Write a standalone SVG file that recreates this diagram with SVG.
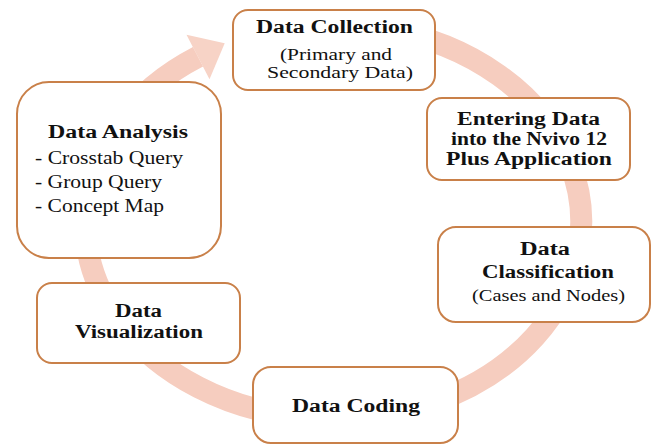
<svg xmlns="http://www.w3.org/2000/svg" width="660" height="446" viewBox="0 0 660 446">
<style>
.box{fill:#ffffff;stroke:#c98049;stroke-width:2}
.t{font-family:"Liberation Serif","Times New Roman",serif;font-weight:bold;font-size:18px;fill:#111;text-anchor:middle}
.r{font-family:"Liberation Serif","Times New Roman",serif;font-size:16px;fill:#111;text-anchor:middle}
.l{font-family:"Liberation Serif","Times New Roman",serif;font-size:18px;fill:#111;text-anchor:start}
</style>
<rect width="660" height="446" fill="#ffffff"/>
<g id="connectors">
<path d="M 268.8 31.7 A 248 197 0 1 1 198.0 56.8" fill="none" stroke="#f6cdbf" stroke-width="22"/>
<polygon points="186.5,34.8 224.7,43.2 209.5,79.2" fill="#f7d3c6"/>
</g>
<g id="data-collection">
<rect class="box" x="233" y="10" width="202" height="80" rx="15"/>
<text class="t" x="334.5" y="33" textLength="157" lengthAdjust="spacingAndGlyphs">Data Collection</text>
<text class="r" x="336" y="60" textLength="112" lengthAdjust="spacingAndGlyphs">(Primary and</text>
<text class="r" x="340" y="78" textLength="146" lengthAdjust="spacingAndGlyphs">Secondary Data)</text>
</g>
<g id="entering-data">
<rect class="box" x="427" y="98" width="203" height="82" rx="15"/>
<text class="t" x="528.5" y="125" textLength="143" lengthAdjust="spacingAndGlyphs">Entering Data</text>
<text class="t" x="529" y="145" textLength="156" lengthAdjust="spacingAndGlyphs">into the Nvivo 12</text>
<text class="t" x="529" y="165" textLength="166" lengthAdjust="spacingAndGlyphs">Plus Application</text>
</g>
<g id="data-classification">
<rect class="box" x="438" y="227" width="212" height="95" rx="18"/>
<text class="t" x="545" y="255" textLength="50" lengthAdjust="spacingAndGlyphs">Data</text>
<text class="t" x="548" y="278" textLength="132" lengthAdjust="spacingAndGlyphs">Classification</text>
<text class="r" x="548.5" y="301" textLength="153" lengthAdjust="spacingAndGlyphs">(Cases and Nodes)</text>
</g>
<g id="data-coding">
<rect class="box" x="253" y="367" width="205" height="76" rx="18"/>
<text class="t" x="356" y="412" textLength="128" lengthAdjust="spacingAndGlyphs">Data Coding</text>
</g>
<g id="data-visualization">
<rect class="box" x="37" y="283" width="203" height="80" rx="15"/>
<text class="t" x="138.5" y="317" textLength="47" lengthAdjust="spacingAndGlyphs">Data</text>
<text class="t" x="139" y="338" textLength="128" lengthAdjust="spacingAndGlyphs">Visualization</text>
</g>
<g id="data-analysis">
<rect class="box" x="17" y="82" width="204" height="176" rx="32"/>
<text class="t" x="118" y="138" textLength="140" lengthAdjust="spacingAndGlyphs">Data Analysis</text>
<text class="l" x="35" y="164" textLength="148" lengthAdjust="spacingAndGlyphs">- Crosstab Query</text>
<text class="l" x="35" y="188" textLength="127" lengthAdjust="spacingAndGlyphs">- Group Query</text>
<text class="l" x="35" y="212" textLength="129" lengthAdjust="spacingAndGlyphs">- Concept Map</text>
</g>
</svg>
